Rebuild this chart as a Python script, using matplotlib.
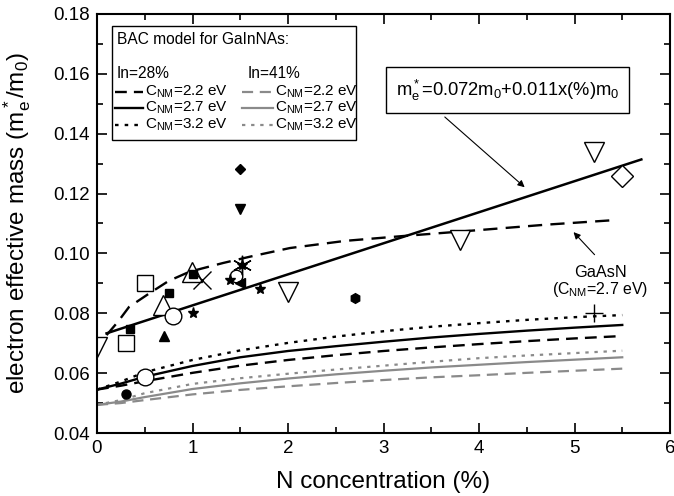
import numpy as np
import matplotlib
matplotlib.use("Agg")
import matplotlib.pyplot as plt
from matplotlib.patches import Rectangle
from matplotlib.ticker import MultipleLocator, FormatStrFormatter

plt.rcParams['font.family'] = ['Liberation Sans', 'DejaVu Sans']
plt.rcParams['mathtext.fontset'] = 'custom'
plt.rcParams['mathtext.rm'] = 'Liberation Sans'
plt.rcParams['mathtext.it'] = 'Liberation Sans:italic'

# BAC model curves (N %, m*/m0)
n_bac = [0, 0.25, 0.5, 1.0, 1.5, 2.0, 2.5, 3.0, 3.5, 4.0, 4.5, 5.0, 5.5]
in28_22 = [0.0545, 0.0558, 0.0573, 0.0601, 0.0625, 0.0644, 0.0660, 0.0674, 0.0686, 0.0697, 0.0707, 0.0716, 0.0724]
in28_27 = [0.0545, 0.0565, 0.0588, 0.0624, 0.0653, 0.0674, 0.0690, 0.0705, 0.0719, 0.0731, 0.0742, 0.0752, 0.0761]
in28_32 = [0.0545, 0.0572, 0.0603, 0.0644, 0.0676, 0.0701, 0.0722, 0.0740, 0.0755, 0.0767, 0.0778, 0.0787, 0.0794]
in41_22 = [0.0494, 0.0500, 0.0510, 0.0529, 0.0544, 0.0556, 0.0567, 0.0577, 0.0586, 0.0593, 0.0601, 0.0608, 0.0615]
in41_27 = [0.0494, 0.0505, 0.0520, 0.0547, 0.0566, 0.0582, 0.0596, 0.0608, 0.0619, 0.0628, 0.0637, 0.0645, 0.0653]
in41_32 = [0.0494, 0.0510, 0.0533, 0.0564, 0.0583, 0.0598, 0.0612, 0.0625, 0.0638, 0.0650, 0.0659, 0.0667, 0.0675]

# GaAsN BAC curve
n_gaasn = [0.10, 0.22, 0.335, 0.55, 0.75, 0.97, 1.32, 1.60, 2.02, 2.6, 3.2, 4.0, 4.7, 5.45]
m_gaasn = [0.0727, 0.0772, 0.0821, 0.0867, 0.0908, 0.0939, 0.0968, 0.0989, 0.1018, 0.1042, 0.1058, 0.1078, 0.1096, 0.1112]

# linear fit
n_fit = [0.1, 5.7]
m_fit = [0.0733, 0.1314]

# experimental points
open_sq_n, open_sq_m = [0.30, 0.50], [0.0702, 0.0900]
fill_sq_n, fill_sq_m = [0.35, 0.75, 1.00], [0.0748, 0.0869, 0.0930]
open_up_n, open_up_m = [0.695, 0.99], [0.0828, 0.0939]
fill_up_n, fill_up_m = [0.70], [0.0725]
open_ci_n, open_ci_m = [0.50, 0.80], [0.0588, 0.0791]
small_ci_n, small_ci_m = [1.46], [0.0925]
star_n, star_m = [1.00, 1.39, 1.71, 1.515], [0.0800, 0.0911, 0.0880, 0.0961]
x_n, x_m = [1.10], [0.0911]
ast_n, ast_m = [1.515], [0.0961]
fill_left_n, fill_left_m = [1.50], [0.0900]
fill_down_n, fill_down_m = [1.50], [0.1147]
fill_dia_n, fill_dia_m = [1.50], [0.1282]
fill_ci_n, fill_ci_m = [0.30], [0.0529]
hex_n, hex_m = [2.70], [0.0850]
open_down_n, open_down_m = [0.0, 2.00, 3.80, 5.20], [0.0687, 0.0872, 0.1045, 0.1340]
open_dia_n, open_dia_m = [5.50], [0.1259]
plus_n, plus_m = [5.20], [0.0800]

GRAY = '#8a8a8a'
DASH = (0, (5, 3))
DOT = (0, (1.5, 2.6))

fig = plt.figure(figsize=(6.74, 4.96), dpi=100)
ax = fig.add_axes([97/674, 1 - 433/496, 573/674, 419/496])

ax.plot(n_bac, in28_22, color='k', lw=1.7, ls=DASH)
ax.plot(n_bac, in28_27, color='k', lw=1.7)
ax.plot(n_bac, in28_32, color='k', lw=1.7, ls=DOT)
ax.plot(n_bac, in41_22, color=GRAY, lw=1.6, ls=DASH)
ax.plot(n_bac, in41_27, color=GRAY, lw=1.6)
ax.plot(n_bac, in41_32, color=GRAY, lw=1.6, ls=DOT)
ax.plot(n_gaasn, m_gaasn, color='k', lw=1.7, ls=(0, (6, 3.5)))
ax.plot(n_fit, m_fit, color='k', lw=1.8)

op = dict(ls='none', mfc='white', mec='k', mew=1.0)
fp = dict(ls='none', color='k')
ax.plot(small_ci_n, small_ci_m, 'o', ms=9, ls='none', mfc='none', mec='k', mew=1.0)
ax.plot(open_sq_n, open_sq_m, 's', ms=11, **op)
ax.plot(open_up_n, open_up_m, '^', ms=14, **op)
ax.plot(open_ci_n, open_ci_m, 'o', ms=12, **op)
ax.plot(open_down_n, open_down_m, 'v', ms=14, **op)
ax.plot(open_dia_n, open_dia_m, 'D', ms=11, **op)
ax.plot(fill_sq_n, fill_sq_m, 's', ms=6, **fp)
ax.plot(fill_up_n, fill_up_m, '^', ms=7, **fp)
ax.plot(star_n, star_m, '*', ms=8, **fp)
ax.plot(x_n, x_m, 'x', ms=13, mew=1.0, **fp)
ax.plot(ast_n, ast_m, marker=(6, 2, 0), ms=14, mew=1.0, **fp)
ax.plot(fill_left_n, fill_left_m, '<', ms=7, **fp)
ax.plot(fill_down_n, fill_down_m, 'v', ms=7, **fp)
ax.plot(fill_dia_n, fill_dia_m, 'D', ms=5.5, **fp)
ax.plot(fill_ci_n, fill_ci_m, 'o', ms=6.5, **fp)
ax.plot(hex_n, hex_m, 'h', ms=7, **fp)
ax.plot(plus_n, plus_m, '+', ms=13, mew=1.0, **fp)

# fit annotation
ax.annotate('', xy=(4.5, 0.1215), xytext=(3.62, 0.1462),
            arrowprops=dict(arrowstyle='-|>', color='k', lw=0.8, mutation_scale=10))
ax.text(4.30, 0.1546, r'm$_\mathrm{e}^*$=0.072m$_\mathrm{0}$+0.011x(%)m$_\mathrm{0}$',
        fontsize=13.2, ha='center', va='center',
        bbox=dict(boxstyle='square,pad=0.55', fc='white', ec='k', lw=1.0))
ax.annotate('', xy=(4.97, 0.1078), xytext=(5.23, 0.0989),
            arrowprops=dict(arrowstyle='-|>', color='k', lw=0.8, mutation_scale=10))
ax.text(5.27, 0.0935, 'GaAsN', fontsize=11.7, ha='center', va='center')
ax.text(5.27, 0.0878, r'(C$_\mathrm{NM}$=2.7 eV)', fontsize=11.4, ha='center', va='center')

# model legend box
ax.add_patch(Rectangle((0.0262, 0.699), 0.426, 0.272, transform=ax.transAxes,
                       fill=True, fc='white', ec='k', lw=1.0, zorder=5))
ax.text(0.0349, 0.940, 'BAC model for GaInNAs:', transform=ax.transAxes,
        fontsize=11.2, va='center', zorder=6)
ax.text(0.0349, 0.858, 'In=28%', transform=ax.transAxes, fontsize=11.2, va='center', zorder=6)
ax.text(0.262, 0.858, 'In=41%', transform=ax.transAxes, fontsize=11.2, va='center', zorder=6)
rows_y = [0.8146, 0.775, 0.735]
styles = [DASH, '-', DOT]
labels = ['2.2', '2.7', '3.2']
for ry, st, lb in zip(rows_y, styles, labels):
    ax.plot([0.0314, 0.0803], [ry, ry], transform=ax.transAxes, color='k', lw=1.7, ls=st, zorder=6)
    ax.text(0.0838, ry, r'C$_\mathrm{NM}$=' + lb + ' eV', transform=ax.transAxes,
            fontsize=11, va='center', zorder=6)
    ax.plot([0.253, 0.307], [ry, ry], transform=ax.transAxes, color=GRAY, lw=1.6, ls=st, zorder=6)
    ax.text(0.311, ry, r'C$_\mathrm{NM}$=' + lb + ' eV', transform=ax.transAxes,
            fontsize=11, va='center', zorder=6)

ax.set_xlim(0, 6)
ax.set_ylim(0.04, 0.18)
ax.xaxis.set_major_locator(MultipleLocator(1))
ax.xaxis.set_minor_locator(MultipleLocator(0.5))
ax.yaxis.set_major_locator(MultipleLocator(0.02))
ax.yaxis.set_minor_locator(MultipleLocator(0.01))
ax.yaxis.set_major_formatter(FormatStrFormatter('%.2f'))
ax.tick_params(which='both', direction='in', top=True, right=True, width=1.2)
ax.tick_params(which='major', length=7, pad=5, labelsize=13.5)
ax.tick_params(which='minor', length=4)
for sp in ax.spines.values():
    sp.set_linewidth(1.5)

ax.set_xlabel('N concentration (%)', fontsize=17.5)
ax.set_ylabel(r'electron effective mass (m$_\mathrm{e}^*$/m$_\mathrm{0}$)', fontsize=17.5)
ax.xaxis.set_label_coords(0.5, -0.09)
ax.yaxis.set_label_coords(-0.112, 0.5)

fig.savefig('out.png', dpi=100)
